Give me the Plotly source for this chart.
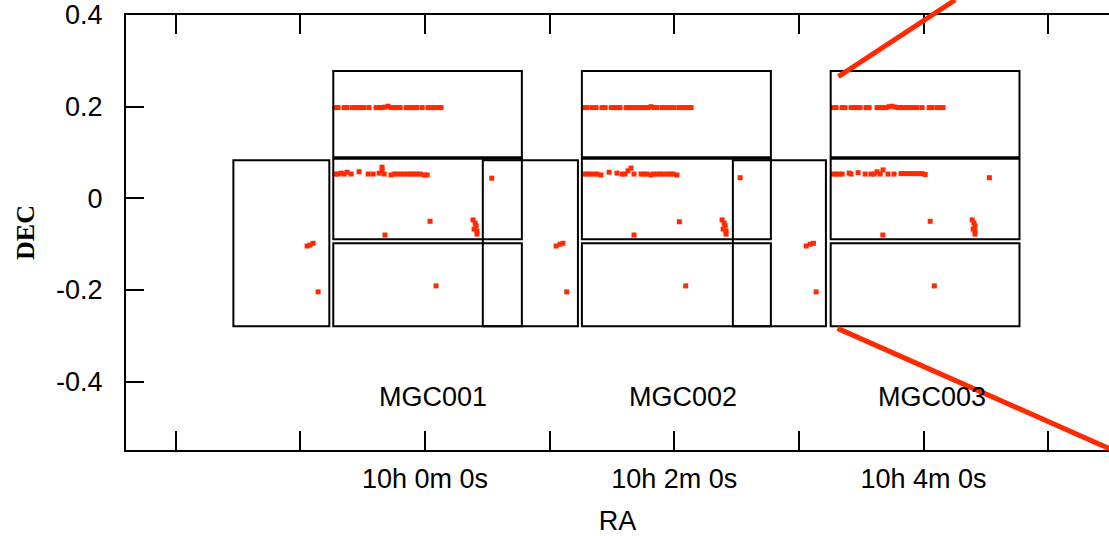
import plotly.graph_objects as go

# ---------------- data ----------------
# RA expressed in seconds of time relative to 10h 0m 0s, Dec in degrees
x_tickvals = [-120, -60, 0, 60, 120, 180, 240, 300]
x_ticktext = ["", "", "10h 0m 0s", "", "10h 2m 0s", "", "10h 4m 0s", ""]
y_tickvals = [-0.4, -0.2, 0.0, 0.2, 0.4]
y_ticktext = ["-0.4", "-0.2", "0", "0.2", "0.4"]

x_range = [-144.0, 329.3]
y_range = [-0.549, 0.4]

# survey field rectangles
box_ra0 = [-92.3, -44.2, -44.2, -44.2, 27.8, 75.5, 75.5, 75.5, 148.2, 195.3, 195.3, 195.3]
box_ra1 = [-46.1, 46.6, 46.6, 46.6, 73.6, 166.5, 166.5, 166.5, 193.0, 286.2, 286.2, 286.2]
box_dec0 = [-0.279, 0.0895, -0.089, -0.279, -0.279, 0.0895, -0.089, -0.279, -0.279, 0.0895, -0.089, -0.279]
box_dec1 = [0.083, 0.278, 0.0865, -0.098, 0.083, 0.278, 0.0865, -0.098, 0.083, 0.278, 0.0865, -0.098]

field_names = ["MGC001", "MGC002", "MGC003"]
field_label_ra = [3.9, 124.2, 244.1]
field_label_dec = [-0.4335, -0.4335, -0.4335]

# objects (red points)
mgc001_ra = [-43.3, -41.9, -39.0, -37.6, -35.1, -33.7, -32.3, -30.8, -29.4, -27.0,
             -23.6, -22.1, -20.7, -19.3, -17.8, -16.4, -14.9, -13.5, -12.0, -9.1,
             -7.7, -6.3, -4.8, -3.9, -1.4, 1.4, 3.4, 4.8, 6.3, 7.7,
             -43.3, -41.9, -40.4, -39.0, -37.6, -35.6, -31.8, -27.4, -25.0, -22.1,
             -20.7, -20.7, -19.7, -16.4, -14.9, -13.5, -11.6, -10.1, -8.2, -6.7,
             -5.3, -3.9, -2.4, -0.5, 1.0,
             32.1, 2.4, 23.1, 24.1, 24.6, 23.6, 25.0, 25.0, -19.3,
             -56.8, -55.4, -53.9, -51.5, 5.3]
mgc001_dec = [0.198, 0.198, 0.198, 0.198, 0.198, 0.198, 0.198, 0.198, 0.198, 0.198,
              0.198, 0.198, 0.198, 0.199, 0.201, 0.198, 0.198, 0.198, 0.198, 0.198,
              0.198, 0.198, 0.198, 0.198, 0.198, 0.198, 0.198, 0.198, 0.198, 0.198,
              0.053, 0.053, 0.055, 0.053, 0.057, 0.053, 0.058, 0.053, 0.053, 0.055,
              0.062, 0.068, 0.053, 0.051, 0.053, 0.053, 0.053, 0.053, 0.053, 0.053,
              0.053, 0.053, 0.053, 0.051, 0.051,
              0.044, -0.050, -0.047, -0.054, -0.060, -0.067, -0.071, -0.078, -0.080,
              -0.104, -0.102, -0.098, -0.204, -0.191]

mgc002_ra = [76.6, 78.0, 80.4, 82.3, 85.2, 86.7, 89.6, 91.0, 92.4, 93.9,
             96.8, 98.2, 99.7, 101.1, 102.6, 104.0, 105.9, 107.4, 108.8, 110.3,
             111.7, 114.1, 116.0, 118.0, 119.9, 122.3, 123.7, 125.2, 126.6, 128.1,
             76.6, 78.0, 79.4, 81.4, 82.8, 84.7, 88.6, 92.4, 94.9, 96.3,
             97.7, 99.2, 100.6, 104.0, 105.4, 106.9, 108.8, 109.8, 111.7, 113.2,
             114.6, 116.5, 118.0, 119.4, 121.3,
             151.7, 122.4, 143.0, 144.0, 144.5, 143.5, 144.9, 144.9, 100.6,
             63.1, 65.0, 66.4, 68.2, 125.5]
mgc002_dec = [0.198, 0.198, 0.198, 0.198, 0.198, 0.198, 0.198, 0.198, 0.198, 0.198,
              0.198, 0.198, 0.198, 0.198, 0.198, 0.198, 0.198, 0.198, 0.200, 0.198,
              0.198, 0.198, 0.198, 0.198, 0.198, 0.198, 0.198, 0.198, 0.198, 0.198,
              0.053, 0.053, 0.053, 0.053, 0.053, 0.051, 0.057, 0.055, 0.053, 0.053,
              0.060, 0.066, 0.053, 0.053, 0.053, 0.053, 0.051, 0.053, 0.053, 0.053,
              0.053, 0.053, 0.053, 0.053, 0.051,
              0.045, -0.051, -0.047, -0.054, -0.060, -0.067, -0.071, -0.078, -0.080,
              -0.104, -0.100, -0.098, -0.204, -0.191]

mgc003_ra = [196.5, 197.9, 200.8, 202.2, 205.1, 206.6, 208.0, 209.5, 212.3, 213.8,
             217.6, 219.1, 220.5, 222.0, 223.4, 224.9, 226.3, 227.7, 229.2, 230.6,
             232.1, 233.5, 235.0, 236.9, 239.3, 242.7, 244.1, 246.5, 248.0, 249.4,
             196.5, 197.9, 199.3, 200.8, 204.2, 205.1, 208.5, 211.9, 214.7, 216.2,
             217.6, 219.1, 220.5, 222.9, 225.8, 229.2, 230.6, 232.1, 233.5, 235.0,
             236.4, 237.9, 239.3, 240.8,
             271.7, 243.2, 263.4, 264.3, 264.8, 263.9, 264.8, 264.8, 220.4,
             183.5, 185.4, 187.0, 188.3, 245.2]
mgc003_dec = [0.198, 0.198, 0.198, 0.198, 0.198, 0.198, 0.198, 0.198, 0.198, 0.198,
              0.198, 0.198, 0.198, 0.198, 0.200, 0.201, 0.199, 0.198, 0.198, 0.198,
              0.198, 0.198, 0.198, 0.198, 0.198, 0.198, 0.198, 0.198, 0.198, 0.198,
              0.053, 0.053, 0.053, 0.053, 0.055, 0.053, 0.056, 0.053, 0.053, 0.053,
              0.058, 0.053, 0.062, 0.053, 0.053, 0.054, 0.054, 0.054, 0.054, 0.054,
              0.054, 0.054, 0.054, 0.052,
              0.045, -0.050, -0.047, -0.054, -0.060, -0.067, -0.071, -0.078, -0.080,
              -0.104, -0.100, -0.098, -0.204, -0.191]

# zoom-indicator lines leaving the MGC003 field
link_ra0 = [199.0, 198.6]
link_dec0 = [0.2654, -0.2836]
link_ra1 = [255.2, 340.0]
link_dec1 = [0.4327, -0.567]

# ---------------- figure ----------------
RED = "#ff2a00"
SANS = "Liberation Sans"
fig = go.Figure()

for ra, dec in [(mgc001_ra, mgc001_dec), (mgc002_ra, mgc002_dec), (mgc003_ra, mgc003_dec)]:
    fig.add_trace(go.Scatter(
        x=ra, y=dec, mode="markers",
        marker=dict(symbol="square", size=5, color=RED, line=dict(width=0)),
        showlegend=False, hoverinfo="skip", cliponaxis=False))

for r0, r1, d0, d1 in zip(box_ra0, box_ra1, box_dec0, box_dec1):
    fig.add_shape(type="rect", xref="x", yref="y", x0=r0, x1=r1, y0=d0, y1=d1,
                  line=dict(color="black", width=2), fillcolor="rgba(0,0,0,0)")


def dec_to_paper(d):
    return (d - y_range[0]) / (y_range[1] - y_range[0])


for r0, d0, r1, d1 in zip(link_ra0, link_dec0, link_ra1, link_dec1):
    fig.add_shape(type="line", xref="x", yref="paper",
                  x0=r0, y0=dec_to_paper(d0), x1=r1, y1=dec_to_paper(d1),
                  line=dict(color=RED, width=5))

for name, ra, dec in zip(field_names, field_label_ra, field_label_dec):
    fig.add_annotation(x=ra, y=dec, xref="x", yref="y", text=name, showarrow=False,
                       font=dict(family=SANS, size=27, color="black"))

fig.update_layout(
    width=1109, height=536,
    margin=dict(l=126, r=0, t=15, b=86, autoexpand=False),
    paper_bgcolor="white", plot_bgcolor="white",
    font=dict(family=SANS, size=27, color="black"),
    showlegend=False,
)
fig.update_xaxes(
    range=x_range, tickmode="array", tickvals=x_tickvals, ticktext=x_ticktext,
    ticks="inside", ticklen=19, tickwidth=2, tickcolor="black",
    showline=True, linewidth=2, linecolor="black", mirror="ticks",
    showgrid=False, zeroline=False, ticklabelstandoff=4, automargin=False,
    tickfont=dict(family=SANS, size=27),
    title=dict(text="RA", font=dict(family=SANS, size=27), standoff=21),
)
fig.update_yaxes(
    range=y_range, tickmode="array", tickvals=y_tickvals, ticktext=y_ticktext,
    ticks="inside", ticklen=18, tickwidth=2, tickcolor="black",
    showline=True, linewidth=2, linecolor="black", mirror=False,
    showgrid=False, zeroline=False, ticklabelstandoff=16, automargin=False,
    tickfont=dict(family=SANS, size=27),
    title=dict(text="<b>DEC</b>", font=dict(family="Liberation Serif", size=26), standoff=14),
)

fig.write_html("out.html", config={"displayModeBar": False},
               post_script="document.body.style.margin='0';")
